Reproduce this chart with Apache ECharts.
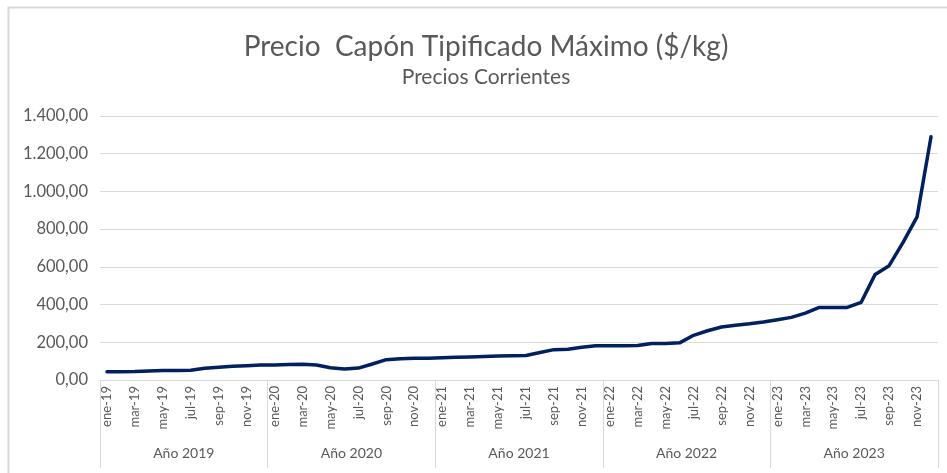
<!DOCTYPE html>
<html>
<head>
<meta charset="utf-8">
<script src="https://cdn.jsdelivr.net/npm/echarts@6/dist/echarts.min.js"></script>
<style>html,body{margin:0;padding:0;background:#fff}#c{width:947px;height:473px}</style>
</head>
<body>
<div id="c"></div>
<script>
var months = ['ene','feb','mar','abr','may','jun','jul','ago','sep','oct','nov','dic'];
var years = ['19','20','21','22','23'];
var yearLabels = ['Año 2019','Año 2020','Año 2021','Año 2022','Año 2023'];
var categories = [];
years.forEach(function(y){ months.forEach(function(m){ categories.push(m + '-' + y); }); });

var precio2019 = [44, 44, 45, 48, 50, 51, 52, 62, 68, 73, 76, 80];
var precio2020 = [80, 82, 83, 80, 65, 58, 63, 85, 108, 113, 115, 116];
var precio2021 = [118, 120, 122, 125, 127, 128, 130, 146, 161, 163, 174, 182];
var precio2022 = [182, 182, 183, 193, 194, 197, 237, 261, 281, 290, 298, 308];
var precio2023 = [320, 332, 355, 385, 385, 385, 412, 560, 606, 730, 865, 1290];
var values = [].concat(precio2019, precio2020, precio2021, precio2022, precio2023);

var FONT = 'Lato, "Open Sans", sans-serif';
var GREY = '#595959';
var LINE = '#d9d9d9';

function fmt(v){
  var s = Math.round(v).toString().replace(/\B(?=(\d{3})+(?!\d))/g, '.');
  return s + ',00';
}

var chart = echarts.init(document.getElementById('c'), null, {renderer:'canvas'});
chart.setOption({
  animation: false,
  backgroundColor: '#fff',
  textStyle: {fontFamily: FONT},
  title: [
    {text: 'Precio  Capón Tipificado Máximo ($/kg)', left: 481, top: 28, textAlign: 'center',
     textStyle: {fontFamily: FONT, fontSize: 28, fontWeight: 'normal', color: GREY}},
    {text: 'Precios Corrientes', left: 481, top: 62, textAlign: 'center',
     textStyle: {fontFamily: FONT, fontSize: 21, fontWeight: 'normal', color: GREY}}
  ],
  graphic: [
    {type: 'rect', shape: {x: 8.5, y: 7.5, width: 960, height: 500},
     style: {fill: 'none', stroke: LINE, lineWidth: 2}, silent: true}
  ],
  grid: {left: 100, right: 9, top: 116, bottom: 93, containLabel: false},
  xAxis: [
    {type: 'category', data: categories, boundaryGap: true,
     axisLine: {show: true, lineStyle: {color: LINE, width: 1}},
     axisTick: {show: false},
     axisLabel: {interval: 1, rotate: 90, margin: 6, fontSize: 13, color: GREY, fontFamily: FONT}},
    {type: 'category', data: yearLabels, position: 'bottom', boundaryGap: true,
     axisLine: {show: false},
     axisTick: {show: true, length: 88, lineStyle: {color: LINE, width: 1}},
     axisLabel: {margin: 66, fontSize: 14, color: GREY, fontFamily: FONT}}
  ],
  yAxis: {
    type: 'value', min: 0, max: 1400, interval: 200,
    axisLine: {show: false}, axisTick: {show: false},
    splitLine: {lineStyle: {color: LINE, width: 1}},
    axisLabel: {formatter: fmt, fontSize: 16.5, color: GREY, margin: 12, fontFamily: FONT}
  },
  series: [{
    type: 'line', data: values, xAxisIndex: 0, symbol: 'none', smooth: false,
    lineStyle: {color: '#002060', width: 3.5, cap: 'round', join: 'round'}
  }]
});
</script>
</body>
</html>
